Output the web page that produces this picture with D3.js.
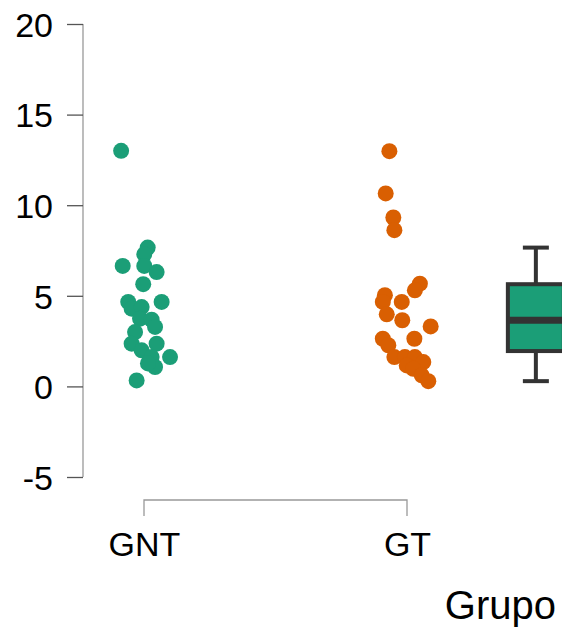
<!DOCTYPE html>
<html>
<head>
<meta charset="utf-8">
<script src="https://cdn.jsdelivr.net/npm/d3@7"></script>
<style>
 body { margin: 0; background: #fff; }
 text { font-family: "Liberation Sans", Arial, sans-serif; fill: #000; }
</style>
</head>
<body>
<div id="chart-area"></div>
<script>
// categories and y ticks
var groups = ["GNT", "GT"];
var yTicks = [-5, 0, 5, 10, 15, 20];

// values
var gntValues = [13.0, 7.66, 7.29, 6.65, 6.31, 6.65, 5.64, 4.66, 4.66, 4.29, 4.38, 3.74, 3.68, 3.28, 3.0, 2.36, 1.99, 2.36, 1.62, 1.62, 1.07, 1.27, 0.33];
var gntJitter = [-0.087, 0.014, 0.001, 0.001, 0.048, -0.081, -0.003, -0.060, 0.067, -0.047, -0.009, -0.015, 0.029, 0.042, -0.034, -0.047, -0.009, 0.048, 0.029, 0.099, 0.042, 0.015, -0.028];

var gtValues = [12.98, 10.65, 9.32, 8.62, 5.67, 5.3, 5.03, 4.66, 4.66, 3.98, 3.65, 3.31, 2.63, 2.63, 2.27, 1.62, 1.62, 1.62, 1.34, 1.16, 0.97, 0.61, 0.29];
var gtJitter = [-0.067, -0.081, -0.052, -0.048, 0.049, 0.030, -0.084, -0.092, -0.020, -0.077, -0.018, 0.090, -0.092, 0.028, -0.071, -0.048, -0.008, 0.030, 0.062, -0.001, 0.024, 0.056, 0.081];

// box summary: low whisker, q1, median, q3, high whisker
var boxStats = [0.29, 1.95, 3.65, 5.64, 7.66];
var boxPos = 2.49;

var colors = ["#1b9e77", "#d95f02"];

var W = 562, H = 628;

var svg = d3.select("#chart-area")
 .append("svg")
 .attr("width", W)
 .attr("height", H);

// x is numeric: GNT = 1, GT = 2
var x = d3.scaleLinear().domain([1, 2]).range([144, 407]);
var y = d3.scaleLinear().domain([-5, 20]).range([477, 24]);

// y axis
var yAxis = d3.axisLeft(y).tickValues(yTicks).tickFormat(d => String(d)).tickSize(16).tickPadding(14);
var yG = svg.append("g")
 .attr("transform", "translate(83,0)")
 .call(yAxis);
yG.select(".domain").attr("stroke", "#999").attr("stroke-width", 1.3).attr("d", `M0,${y(20)}V${y(-5)}`);
yG.selectAll(".tick line").attr("stroke", "#555").attr("stroke-width", 1.3);
yG.selectAll(".tick text").attr("font-size", 34).attr("font-family", "Liberation Sans, Arial, sans-serif").attr("fill", "#000").attr("dy", "0.36em");

// x axis only between the groups
var xAxis = d3.axisBottom(x).tickValues([1, 2]).tickFormat((d, i) => groups[i]).tickSize(0).tickPadding(0);
var xG = svg.append("g")
 .attr("transform", "translate(0,500)")
 .call(xAxis);
xG.select(".domain").attr("stroke", "#999").attr("stroke-width", 1.3).attr("d", `M${x(1)},16V0H${x(2)}V16`);
xG.selectAll(".tick text").attr("font-size", 34).attr("font-family", "Liberation Sans, Arial, sans-serif").attr("fill", "#000").attr("y", 56).attr("dy", 0);

svg.append("text")
 .attr("x", 556)
 .attr("y", 619)
 .attr("text-anchor", "end")
 .attr("font-size", 40)
 .text("Grupo");

// points
var pts = [];
gntValues.forEach((v, i) => pts.push({g: 0, v: v, j: gntJitter[i]}));
gtValues.forEach((v, i) => pts.push({g: 1, v: v, j: gtJitter[i]}));

svg.append("g").selectAll("circle")
 .data(pts)
 .enter()
 .append("circle")
 .attr("cx", d => x(d.g + 1 + d.j))
 .attr("cy", d => y(d.v))
 .attr("r", 8)
 .attr("fill", d => colors[d.g]);

// boxplot
var bx = x(boxPos), half = 28, cap = 13;
var box = svg.append("g").attr("stroke", "#333").attr("stroke-width", 4);
box.append("line").attr("x1", bx).attr("x2", bx).attr("y1", y(boxStats[0])).attr("y2", y(boxStats[4]));
box.append("line").attr("x1", bx - cap).attr("x2", bx + cap).attr("y1", y(boxStats[0])).attr("y2", y(boxStats[0]));
box.append("line").attr("x1", bx - cap).attr("x2", bx + cap).attr("y1", y(boxStats[4])).attr("y2", y(boxStats[4]));
box.append("rect")
 .attr("x", bx - half)
 .attr("y", y(boxStats[3]))
 .attr("width", half * 2)
 .attr("height", y(boxStats[1]) - y(boxStats[3]))
 .attr("fill", colors[0]);
box.append("line").attr("x1", bx - half).attr("x2", bx + half).attr("y1", y(boxStats[2])).attr("y2", y(boxStats[2])).attr("stroke-width", 7);
</script>
</body>
</html>
